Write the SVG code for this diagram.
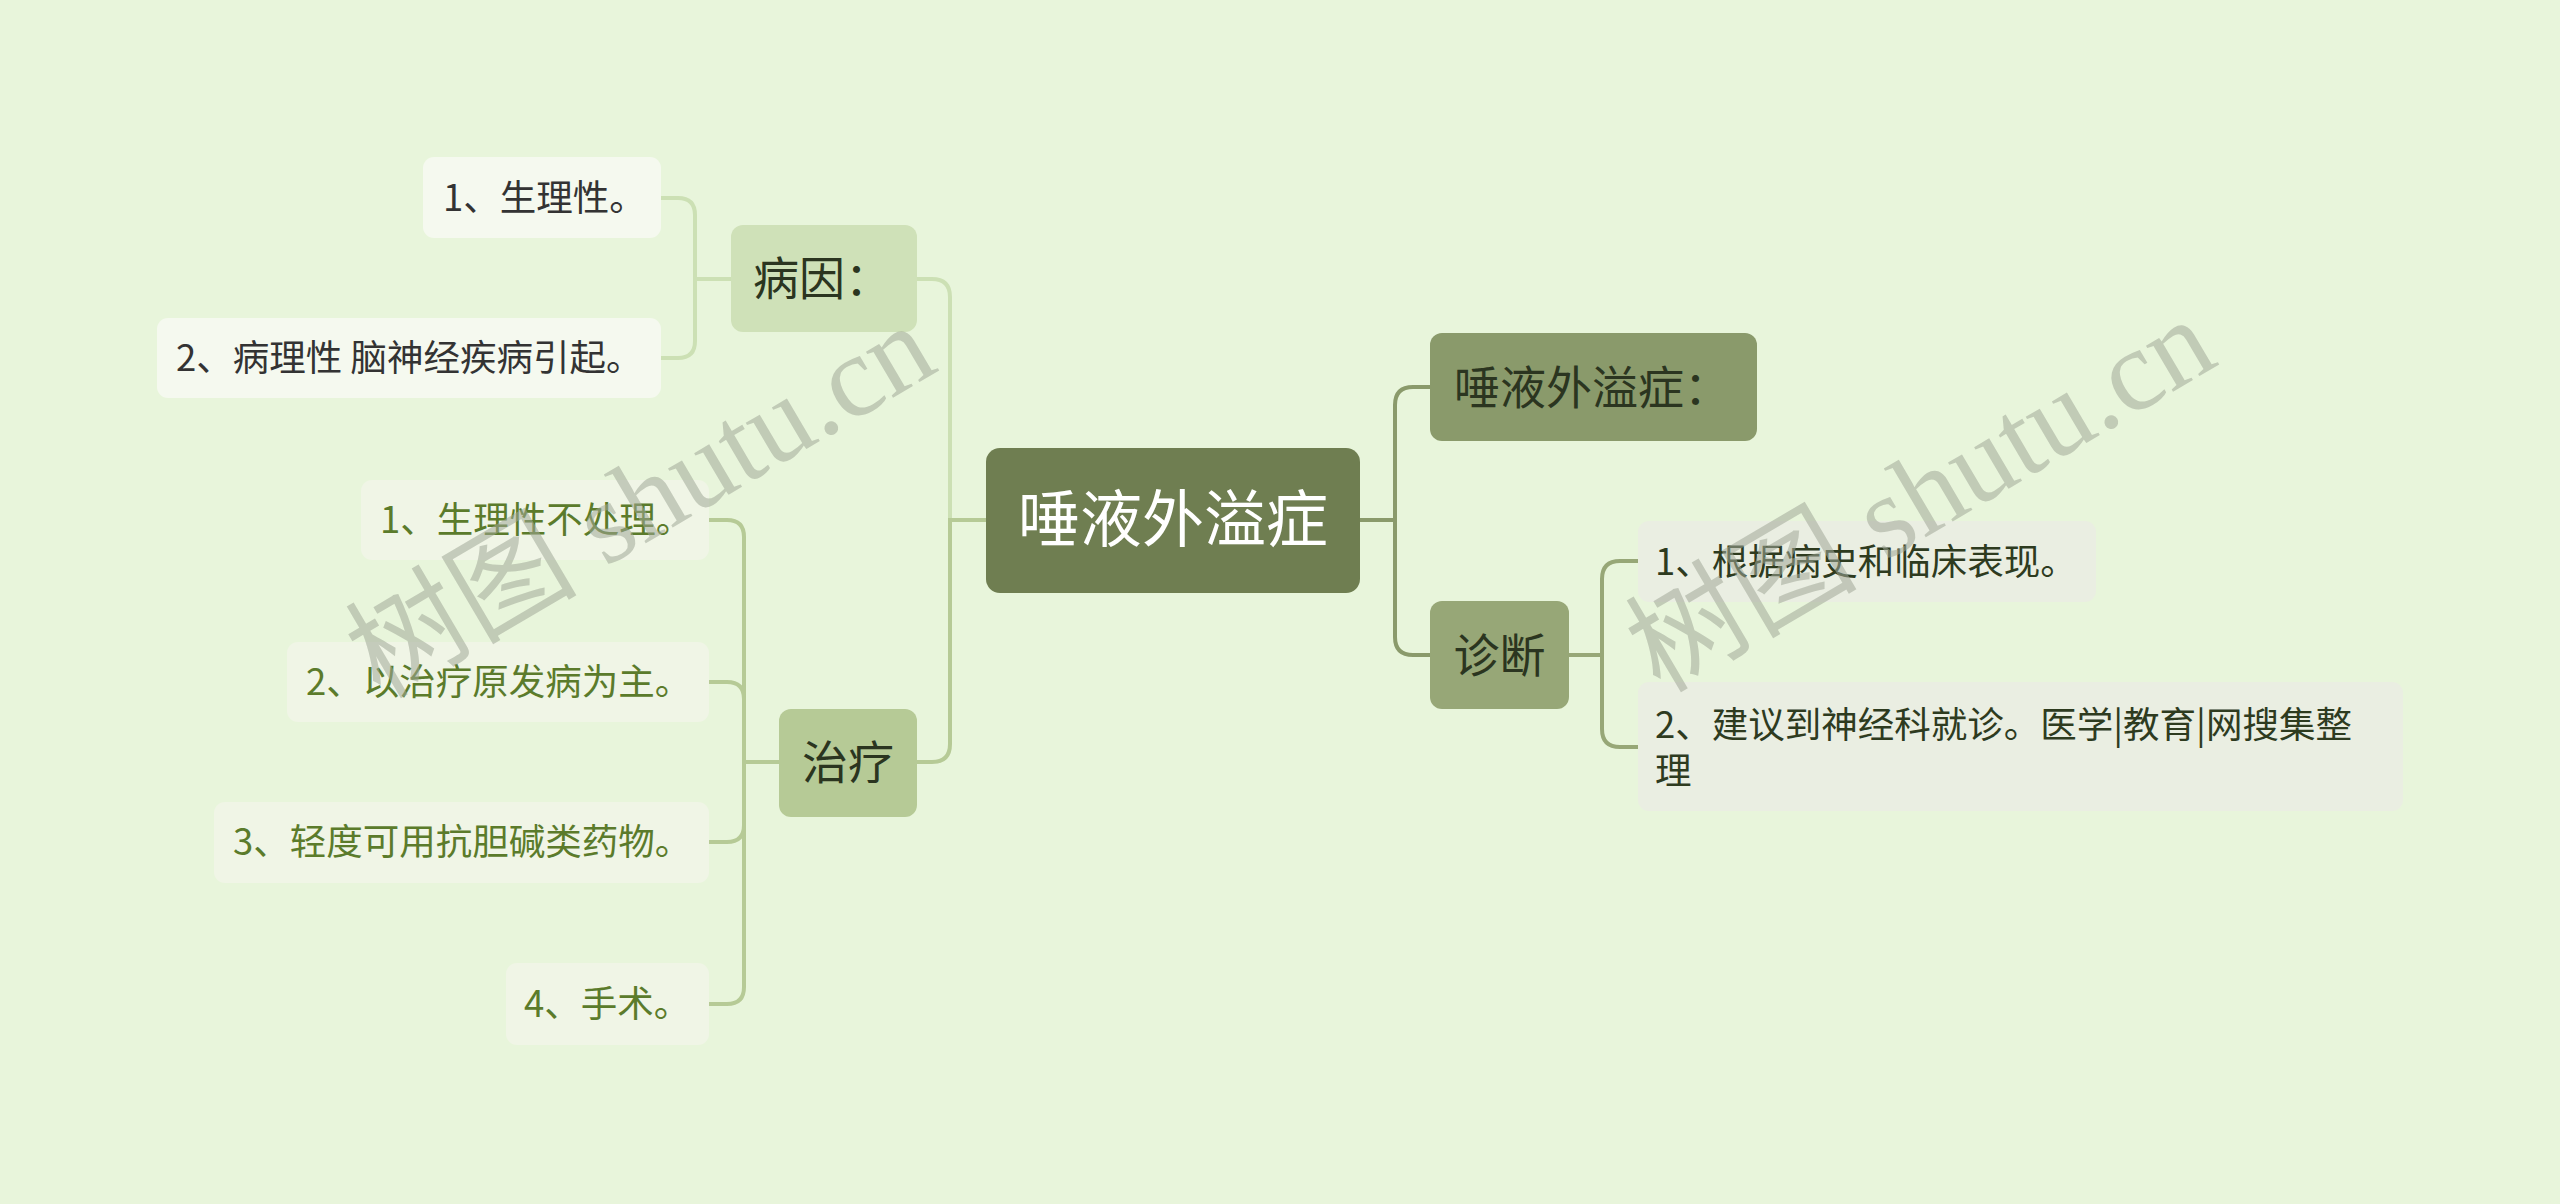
<svg xmlns="http://www.w3.org/2000/svg" width="2560" height="1204" viewBox="0 0 2560 1204">
<style>
text{font-family:"Noto Sans CJK SC","Noto Sans",sans-serif;}
.root{font-size:62px;fill:#ffffff;}
.sub{font-size:46px;fill:#2b3520;}
.leaf{font-size:36.5px;}
.lk{fill:#333333;}
.lg{fill:#5b7b2b;}
.ld{fill:#2e3b1f;}
.c{fill:none;stroke-width:4;stroke-linecap:round;}
.wm{font-family:"Liberation Serif","Noto Sans CJK SC",serif;font-size:116px;fill:#a0a898;fill-opacity:0.55;}
</style>
<rect x="0" y="0" width="2560" height="1204" fill="#e8f5db"/>
<g id="connectors">
<path class="c" stroke="#cce0b4" d="M986,520 H950 V297 Q950,279 932,279 H917"/>
<path class="c" stroke="#b6ca96" d="M986,520 H950 V744 Q950,762 932,762 H917"/>
<path class="c" stroke="#8a9a6b" d="M1360,520 H1395 V405 Q1395,387 1413,387 H1430"/>
<path class="c" stroke="#8a9a6b" d="M1360,520 H1395 V637 Q1395,655 1413,655 H1430"/>
<path class="c" stroke="#cce0b4" d="M731,279 H695 V215 Q695,198 678,198 H661"/>
<path class="c" stroke="#cce0b4" d="M731,279 H695 V341 Q695,358 678,358 H661"/>
<path class="c" stroke="#b6ca96" d="M779,762 H744 V537 Q744,520 727,520 H709"/>
<path class="c" stroke="#b6ca96" d="M779,762 H744 V699 Q744,682 727,682 H709"/>
<path class="c" stroke="#b6ca96" d="M779,762 H744 V825 Q744,842 727,842 H709"/>
<path class="c" stroke="#b6ca96" d="M779,762 H744 V987 Q744,1004 727,1004 H709"/>
<path class="c" stroke="#97a777" d="M1569,655 H1602 V579 Q1602,561 1620,561 H1638"/>
<path class="c" stroke="#97a777" d="M1569,655 H1602 V729 Q1602,747 1620,747 H1638"/>
</g>
<g id="root">
<rect x="986" y="448" width="374" height="145" rx="14" fill="#6f7e51"/>
<text class="root" x="1173" y="542" text-anchor="middle">唾液外溢症</text>
</g>
<g id="n-def">
<rect x="1430" y="333" width="327" height="108" rx="12" fill="#8a9a6b"/>
<text class="sub" x="1454" y="403.5">唾液外溢症：</text>
</g>
<g id="n-diag">
<rect x="1430" y="601" width="139" height="108" rx="12" fill="#97a777"/>
<text class="sub" x="1499.5" y="671.5" text-anchor="middle">诊断</text>
</g>
<g id="n-cause">
<rect x="731" y="225" width="186" height="107" rx="12" fill="#cfe1b8"/>
<text class="sub" x="753" y="295">病因：</text>
</g>
<g id="n-treat">
<rect x="779" y="709" width="138" height="108" rx="12" fill="#b6ca96"/>
<text class="sub" x="848" y="778.5" text-anchor="middle">治疗</text>
</g>
<g id="l-cause1">
<rect x="423" y="157" width="238" height="81" rx="11" fill="#f5f9ef"/>
<text class="leaf lk" x="443" y="211">1、生理性。</text>
</g>
<g id="l-cause2">
<rect x="157" y="318" width="504" height="80" rx="11" fill="#f5f9ef"/>
<text class="leaf lk" x="176" y="371">2、病理性 脑神经疾病引起。</text>
</g>
<g id="l-treat1">
<rect x="361" y="480" width="348" height="80" rx="11" fill="#f0f5e6"/>
<text class="leaf lg" x="380" y="533">1、生理性不处理。</text>
</g>
<g id="l-treat2">
<rect x="287" y="642" width="422" height="80" rx="11" fill="#f0f5e6"/>
<text class="leaf lg" x="306" y="695">2、以治疗原发病为主。</text>
</g>
<g id="l-treat3">
<rect x="214" y="802" width="495" height="81" rx="11" fill="#f0f5e6"/>
<text class="leaf lg" x="233" y="855">3、轻度可用抗胆碱类药物。</text>
</g>
<g id="l-treat4">
<rect x="506" y="963" width="203" height="82" rx="11" fill="#f0f5e6"/>
<text class="leaf lg" x="524" y="1017">4、手术。</text>
</g>
<g id="l-diag1">
<rect x="1638" y="521" width="458" height="81" rx="11" fill="#eaeee2"/>
<text class="leaf ld" x="1655" y="575">1、根据病史和临床表现。</text>
</g>
<g id="l-diag2">
<rect x="1638" y="682" width="765" height="129" rx="11" fill="#eaeee2"/>
<text class="leaf ld" x="1655" y="738">2、建议到神经科就诊。医学|教育|网搜集整</text>
<text class="leaf ld" x="1655" y="784">理</text>
</g>
<g id="watermarks">
<text class="wm" x="380" y="700" transform="rotate(-30.5 380 700)">树图 shutu.cn</text>
<text class="wm" x="1660" y="694" transform="rotate(-30.5 1660 694)">树图 shutu.cn</text>
</g>
</svg>
